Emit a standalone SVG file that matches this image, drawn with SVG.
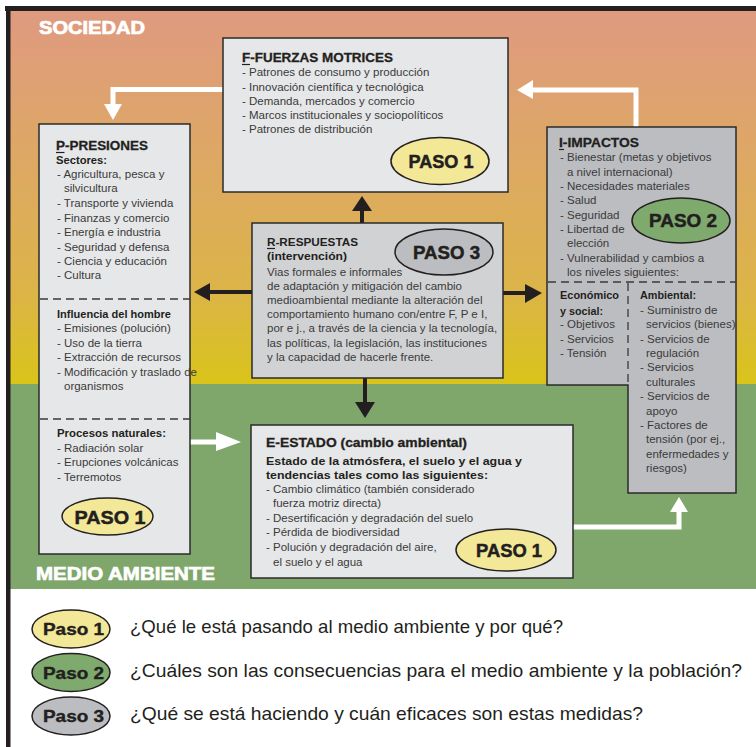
<svg xmlns="http://www.w3.org/2000/svg" width="756" height="747" viewBox="0 0 756 747">
<defs>
<linearGradient id="soc" x1="0" y1="11" x2="0" y2="384" gradientUnits="userSpaceOnUse">
<stop offset="0" stop-color="#DF9A80"/>
<stop offset="0.45" stop-color="#DDAA60"/>
<stop offset="0.75" stop-color="#DCB448"/>
<stop offset="1" stop-color="#D9C41A"/>
</linearGradient>
<style>
text{font-family:"Liberation Sans",Arial,Helvetica,sans-serif}
.t{font-size:11.5px;fill:#3a3a3a}
.b{font-size:11.5px;font-weight:bold;fill:#231f20}
.h{font-size:13px;font-weight:bold;fill:#231f20;stroke:#231f20;stroke-width:0.3}
.paso{font-size:18.5px;font-weight:bold;fill:#231f20;text-anchor:middle;stroke:#231f20;stroke-width:0.5}
.lp{font-size:17px;font-weight:bold;fill:#231f20;text-anchor:middle;stroke:#231f20;stroke-width:0.4}
.q{font-size:18.5px;fill:#231f20}
.zone{font-weight:bold;fill:#fff;stroke:#fff;stroke-width:0.7}
.box{stroke:#2b2b2b;stroke-width:1.5}
.light{fill:#E6E7E8}
.ell{stroke:#231f20;stroke-width:1.5}
.dash{stroke:#3a3a3a;stroke-width:1.3;stroke-dasharray:8 5;fill:none}
.ul{stroke:#231f20;stroke-width:1.2}
.wa{fill:none;stroke:#fff;stroke-width:5}
.ba{stroke:#231f20;stroke-width:4}
</style>
</defs>
<g id="background">
<rect x="0" y="0" width="756" height="747" fill="#fff"/>
<rect x="10" y="11" width="746" height="373" fill="url(#soc)"/>
<rect x="10" y="384" width="746" height="205" fill="#7FA76C"/>
<rect x="5" y="6" width="751" height="5" fill="#231f20"/>
<rect x="6" y="6" width="4.5" height="741" fill="#231f20"/>
<text class="zone" x="39" y="34" font-size="18" textLength="106" lengthAdjust="spacingAndGlyphs">SOCIEDAD</text>
<text class="zone" x="36" y="580" font-size="19" textLength="179" lengthAdjust="spacingAndGlyphs">MEDIO AMBIENTE</text>
</g>
<g id="connectors">
<path class="wa" d="M223,89.5 H113 V105"/>
<polygon points="104,104 122,104 113,120" fill="#fff"/>
<path class="wa" d="M636,127 V90 H532"/>
<polygon points="533,80 533,99 517,90" fill="#fff"/>
<path class="wa" d="M190,442 H217"/>
<polygon points="216,432 216,451 241,442" fill="#fff"/>
<path class="wa" d="M573,527 H679 V511"/>
<polygon points="670,512 688,512 679,497" fill="#fff"/>
<line class="ba" x1="362" y1="223" x2="362" y2="210"/>
<polygon points="352,211 372,211 362,196" fill="#231f20"/>
<line class="ba" x1="365" y1="378" x2="365" y2="403"/>
<polygon points="355,402 375,402 365,418" fill="#231f20"/>
<line class="ba" x1="252" y1="292" x2="208" y2="292"/>
<polygon points="210,283 210,301 194,292" fill="#231f20"/>
<line class="ba" x1="503" y1="293" x2="527" y2="293"/>
<polygon points="525,284 525,303 542,293" fill="#231f20"/>
</g>
<g id="node-F">
<rect class="box light" x="223" y="38" width="285" height="154"/>
<text class="h" x="242" y="62" textLength="151" lengthAdjust="spacingAndGlyphs">F-FUERZAS MOTRICES</text>
<line class="ul" x1="242" y1="64.5" x2="250" y2="64.5"/>
<text class="t" x="242" y="76">- Patrones de consumo y producción</text>
<text class="t" x="242" y="90.5">- Innovación científica y tecnológica</text>
<text class="t" x="242" y="104.5">- Demanda, mercados y comercio</text>
<text class="t" x="242" y="119">- Marcos institucionales y sociopolíticos</text>
<text class="t" x="242" y="133">- Patrones de distribución</text>
<ellipse class="ell" cx="440" cy="161" rx="49" ry="23.5" fill="#F3E897"/>
<text class="paso" x="441" y="167.5" textLength="65" lengthAdjust="spacingAndGlyphs">PASO 1</text>
</g>
<g id="node-P">
<rect class="box light" x="39" y="124" width="151" height="430"/>
<line class="dash" x1="40" y1="299" x2="190" y2="299"/>
<line class="dash" x1="40" y1="419" x2="190" y2="419"/>
<text class="h" x="56" y="150" textLength="92" lengthAdjust="spacingAndGlyphs">P-PRESIONES</text>
<line class="ul" x1="56" y1="152.5" x2="64.5" y2="152.5"/>
<text class="b" x="56" y="164" textLength="51" lengthAdjust="spacingAndGlyphs">Sectores:</text>
<text class="t" x="57" y="178">- Agricultura, pesca y</text>
<text class="t" x="64" y="192">silvicultura</text>
<text class="t" x="57" y="207">- Transporte y vivienda</text>
<text class="t" x="57" y="221.5">- Finanzas y comercio</text>
<text class="t" x="57" y="236">- Energía e industria</text>
<text class="t" x="57" y="250.5">- Seguridad y defensa</text>
<text class="t" x="57" y="265">- Ciencia y educación</text>
<text class="t" x="57" y="279">- Cultura</text>
<text class="b" x="57" y="318" textLength="114" lengthAdjust="spacingAndGlyphs">Influencia del hombre</text>
<text class="t" x="57" y="332">- Emisiones (polución)</text>
<text class="t" x="57" y="347">- Uso de la tierra</text>
<text class="t" x="57" y="361">- Extracción de recursos</text>
<text class="t" x="57" y="376">- Modificación y traslado de</text>
<text class="t" x="64" y="390">organismos</text>
<text class="b" x="57" y="437" textLength="109" lengthAdjust="spacingAndGlyphs">Procesos naturales:</text>
<text class="t" x="57" y="452">- Radiación solar</text>
<text class="t" x="57" y="466">- Erupciones volcánicas</text>
<text class="t" x="57" y="481">- Terremotos</text>
<ellipse class="ell" cx="107.5" cy="516.5" rx="45.5" ry="18.5" fill="#F3E897"/>
<text class="paso" x="110" y="523.5" font-size="19.5" textLength="71" lengthAdjust="spacingAndGlyphs">PASO 1</text>
</g>
<g id="node-R">
<rect class="box" x="252" y="223" width="251" height="155" fill="#D1D2D4"/>
<text class="b" x="267" y="246" textLength="91" lengthAdjust="spacingAndGlyphs">R-RESPUESTAS</text>
<line class="ul" x1="267" y1="248.5" x2="275" y2="248.5"/>
<text class="b" x="267" y="260" textLength="80" lengthAdjust="spacingAndGlyphs">(intervención)</text>
<text class="t" x="267" y="276">Vias formales e informales</text>
<text class="t" x="267" y="290">de adaptación y mitigación del cambio</text>
<text class="t" x="267" y="304">medioambiental mediante la alteración del</text>
<text class="t" x="267" y="318">comportamiento humano con/entre F, P e I,</text>
<text class="t" x="267" y="332">por e j., a través de la ciencia y la tecnología,</text>
<text class="t" x="267" y="347">las políticas, la legislación, las instituciones</text>
<text class="t" x="267" y="361">y la capacidad de hacerle frente.</text>
<ellipse class="ell" cx="444" cy="252" rx="49" ry="23" fill="#BCBDC0"/>
<text class="paso" x="446.5" y="258.5" textLength="67" lengthAdjust="spacingAndGlyphs">PASO 3</text>
</g>
<g id="node-I">
<path class="box" d="M547,127 H736 V493 H628 V385 H547 Z" fill="#BCBDC0"/>
<line class="dash" x1="548" y1="282" x2="736" y2="282"/>
<line class="dash" x1="628" y1="283" x2="628" y2="385"/>
<text class="h" x="559" y="147" textLength="80" lengthAdjust="spacingAndGlyphs">I-IMPACTOS</text>
<line class="ul" x1="559" y1="149.5" x2="564" y2="149.5"/>
<text class="t" x="560" y="161">- Bienestar (metas y objetivos</text>
<text class="t" x="567" y="175.5">a nivel internacional)</text>
<text class="t" x="560" y="190">- Necesidades materiales</text>
<text class="t" x="560" y="204">- Salud</text>
<text class="t" x="560" y="219">- Seguridad</text>
<text class="t" x="560" y="233">- Libertad de</text>
<text class="t" x="567" y="247">elección</text>
<text class="t" x="560" y="262">- Vulnerabilidad y cambios a</text>
<text class="t" x="567" y="276">los niveles siguientes:</text>
<ellipse class="ell" cx="681" cy="220.5" rx="49" ry="22.5" fill="#7FAA6E"/>
<text class="paso" x="683" y="227" textLength="68" lengthAdjust="spacingAndGlyphs">PASO 2</text>
<text class="b" x="560" y="299" textLength="59" lengthAdjust="spacingAndGlyphs">Económico</text>
<text class="b" x="560" y="315" textLength="43" lengthAdjust="spacingAndGlyphs">y social:</text>
<text class="t" x="560" y="328">- Objetivos</text>
<text class="t" x="560" y="343">- Servicios</text>
<text class="t" x="560" y="357">- Tensión</text>
<text class="b" x="640" y="299" textLength="56" lengthAdjust="spacingAndGlyphs">Ambiental:</text>
<text class="t" x="640" y="314">- Suministro de</text>
<text class="t" x="646" y="328">servicios (bienes)</text>
<text class="t" x="640" y="343">- Servicios de</text>
<text class="t" x="646" y="357">regulación</text>
<text class="t" x="640" y="371">- Servicios</text>
<text class="t" x="646" y="386">culturales</text>
<text class="t" x="640" y="400">- Servicios de</text>
<text class="t" x="646" y="415">apoyo</text>
<text class="t" x="640" y="429">- Factores de</text>
<text class="t" x="646" y="443">tensión (por ej.,</text>
<text class="t" x="646" y="458">enfermedades y</text>
<text class="t" x="646" y="472">riesgos)</text>
</g>
<g id="node-E">
<rect class="box light" x="251" y="425" width="322" height="153"/>
<text class="h" x="266" y="447" font-size="12.5" textLength="201" lengthAdjust="spacingAndGlyphs">E-ESTADO (cambio ambiental)</text>
<text class="b" x="266" y="465" font-size="12" textLength="256" lengthAdjust="spacingAndGlyphs">Estado de la atmósfera, el suelo y el agua y</text>
<text class="b" x="266" y="479" font-size="12" textLength="222" lengthAdjust="spacingAndGlyphs">tendencias tales como las siguientes:</text>
<text class="t" x="266" y="493">- Cambio climático (también considerado</text>
<text class="t" x="273" y="507">fuerza motriz directa)</text>
<text class="t" x="266" y="522">- Desertificación y degradación del suelo</text>
<text class="t" x="266" y="536">- Pérdida de biodiversidad</text>
<text class="t" x="266" y="551">- Polución y degradación del aire,</text>
<text class="t" x="273" y="566">el suelo y el agua</text>
<ellipse class="ell" cx="506" cy="550" rx="50" ry="21" fill="#F3E897"/>
<text class="paso" x="509" y="556.5" textLength="66" lengthAdjust="spacingAndGlyphs">PASO 1</text>
</g>
<g id="legend">
<ellipse class="ell" cx="71" cy="629" rx="39" ry="19" fill="#F3E897"/>
<text class="lp" x="73.5" y="635" textLength="61" lengthAdjust="spacingAndGlyphs">Paso 1</text>
<text class="q" x="130" y="633" textLength="433" lengthAdjust="spacingAndGlyphs">¿Qué le está pasando al medio ambiente y por qué?</text>
<ellipse class="ell" cx="71" cy="672.5" rx="39" ry="19" fill="#7FAA6E"/>
<text class="lp" x="73.5" y="678.5" textLength="61" lengthAdjust="spacingAndGlyphs">Paso 2</text>
<text class="q" x="130" y="677" textLength="612" lengthAdjust="spacingAndGlyphs">¿Cuáles son las consecuencias para el medio ambiente y la población?</text>
<ellipse class="ell" cx="71" cy="716" rx="39" ry="19" fill="#BCBDC0"/>
<text class="lp" x="73.5" y="722" textLength="61" lengthAdjust="spacingAndGlyphs">Paso 3</text>
<text class="q" x="130" y="720" textLength="513" lengthAdjust="spacingAndGlyphs">¿Qué se está haciendo y cuán eficaces son estas medidas?</text>
</g>
</svg>
